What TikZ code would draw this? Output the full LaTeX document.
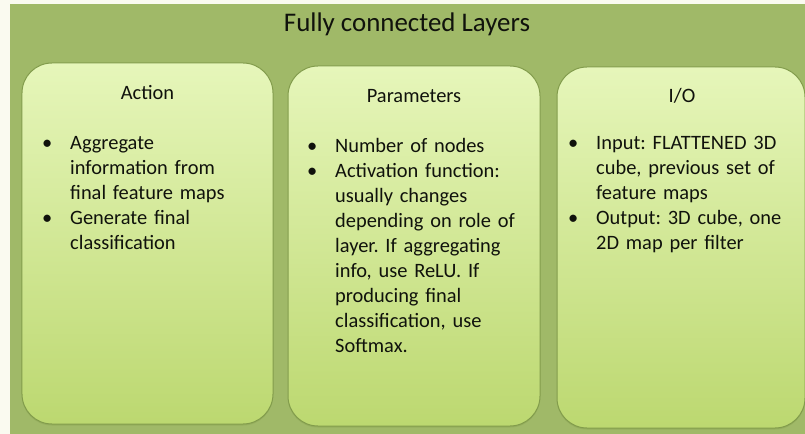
\documentclass[tikz,border=0pt]{standalone}
\usepackage{fontspec}
\setmainfont{Carlito}
\usetikzlibrary{shadows}

\definecolor{paper}{RGB}{250,250,240}
\definecolor{bgolive}{RGB}{160,185,104}
\definecolor{boxtop}{RGB}{230,246,186}
\definecolor{boxmid}{RGB}{214,237,150}
\definecolor{boxbot}{RGB}{188,216,112}
\definecolor{boxedge}{RGB}{130,156,76}
\definecolor{ink}{RGB}{16,18,12}

\newcommand{\bitem}{\makebox[28bp][l]{\textbullet}}
\newcommand{\bcont}{\hspace*{28bp}}
\frenchspacing

\begin{document}
\begin{tikzpicture}[x=1bp,y=-1bp,
  panel/.style={rounded corners=30bp, top color=boxtop, middle color=boxmid,
    bottom color=boxbot, draw=boxedge, line width=1bp, inner sep=0pt,
    drop shadow={shadow xshift=0bp, shadow yshift=-1.5bp, opacity=0.35, fill=boxedge}},
  heading/.style={anchor=base, inner sep=0pt, text=ink,
    font=\fontsize{20.5}{25}\selectfont},
  bullets/.style={anchor=base west, inner sep=0pt, text=ink, align=left,
    text width=240bp, font=\fontsize{20.5}{25}\selectfont},
  title/.style={anchor=base, inner sep=0pt, text=ink,
    font=\fontsize{27}{32}\selectfont}
]
% page and olive backdrop
\useasboundingbox (0,0) rectangle (805,434);
\fill[paper] (0,0) rectangle (805,434);
\fill[bgolive] (10,4) rectangle (805,434);

\node[title] (title) at (407,32) {Fully connected Layers};

% three panels
\node[panel, minimum width=251bp, minimum height=361bp] (action) at (147.5,243.5) {};
\node[panel, minimum width=252bp, minimum height=360bp] (params) at (414,246) {};
\node[panel, minimum width=248bp, minimum height=361bp] (io) at (681,247.5) {};

% panel headings
\node[heading] (hAction) at (147.5,100) {Action};
\node[heading] (hParams) at (414,103) {Parameters};
\node[heading] (hIO) at (682,103) {I/O};

% panel contents
\node[bullets] (tAction) at (42,150) {%
\bitem Aggregate\\
\bcont information from\\
\bcont final feature maps\\
\bitem Generate final\\
\bcont classification};

\node[bullets] (tParams) at (307,153) {%
\bitem Number of nodes\\
\bitem Activation function:\\
\bcont usually changes\\
\bcont depending on role of\\
\bcont layer. If aggregating\\
\bcont info, use ReLU. If\\
\bcont producing final\\
\bcont classification, use\\
\bcont Softmax.};

\node[bullets] (tIO) at (568,150) {%
\bitem Input: FLATTENED 3D\\
\bcont cube, previous set of\\
\bcont feature maps\\
\bitem Output: 3D cube, one\\
\bcont 2D map per filter};
\end{tikzpicture}
\end{document}
